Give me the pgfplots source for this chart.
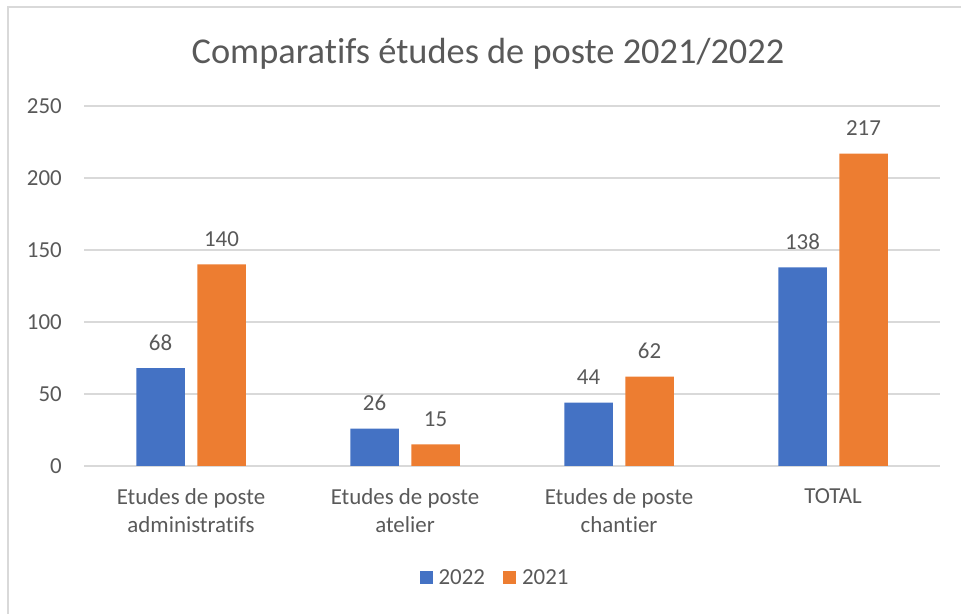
\documentclass[border=0pt]{standalone}
\usepackage{pgfplots}
\pgfplotsset{compat=1.18}
\usepackage{fontspec}
\setmainfont{Carlito}[Ligatures={NoCommon,NoRequired,NoContextual,NoRare}]
\newcommand{\ti}{t\kern0pt i}
\definecolor{bblue}{HTML}{4472C4}
\definecolor{borange}{HTML}{ED7D31}
\definecolor{gridgray}{HTML}{D9D9D9}
\definecolor{txtgray}{HTML}{595959}
\begin{document}
\begin{tikzpicture}[x=1bp,y=1bp]
\useasboundingbox (0,0) rectangle (961,614);
\draw[line width=2bp, color=gridgray] (8,0) -- (8,607) -- (961,607);
\begin{axis}[
  at={(84bp,148bp)}, anchor=south west,
  scale only axis, width=856bp, height=360bp,
  xmin=-0.5, xmax=3.5, ymin=0, ymax=250,
  ytick={0,50,100,150,200,250},
  xtick={0,1,2,3},
  xticklabels={{Etudes de poste\\administra\ti fs},{Etudes de poste\\atelier},{Etudes de poste\\chan\ti er},TOTAL},
  /pgf/number format/assume math mode=true,
  axis line style={draw=none},
  major tick length=0pt,
  ymajorgrids, grid style={gridgray, line width=1.5bp},
  yticklabel style={font=\fontsize{23}{28}\selectfont, text=txtgray, anchor=east, inner sep=0pt, xshift=-22bp},
  xticklabel style={font=\fontsize{23}{29}\selectfont, text=txtgray, align=center, anchor=north, inner sep=0pt, yshift=-22bp},
  ybar, bar width=48.5bp,
  nodes near coords,
  every node near coord/.append style={font=\fontsize{23}{28}\selectfont, text=txtgray, anchor=south, inner sep=0pt, yshift=17.5bp},
  legend style={at={(0.479,-0.311)}, anchor=center, legend columns=2, draw=none, fill=none,
    font=\fontsize{23}{28}\selectfont, text=txtgray, inner sep=0pt,
    nodes={inner sep=0pt}, cells={anchor=west},
    /tikz/every odd column/.append style={column sep=6bp},
    /tikz/every even column/.append style={column sep=18bp}},
  legend image code/.code={\path[#1,draw=none] (0bp,-6.5bp) rectangle (13bp,6.5bp);},
]
\addplot[bar shift=-30.5bp, fill=bblue, draw=none] coordinates {(0,68) (1,26) (2,44) (3,138)};
\addplot[bar shift=30.5bp, fill=borange, draw=none] coordinates {(0,140) (1,15) (2,62) (3,217)};
\legend{2022,2021}
\end{axis}
\node[anchor=base, text=txtgray, font=\fontsize{36.5}{44}\selectfont, inner sep=0pt] at (488,550) {Compara\ti fs études de poste 2021/2022};
\end{tikzpicture}
\end{document}
